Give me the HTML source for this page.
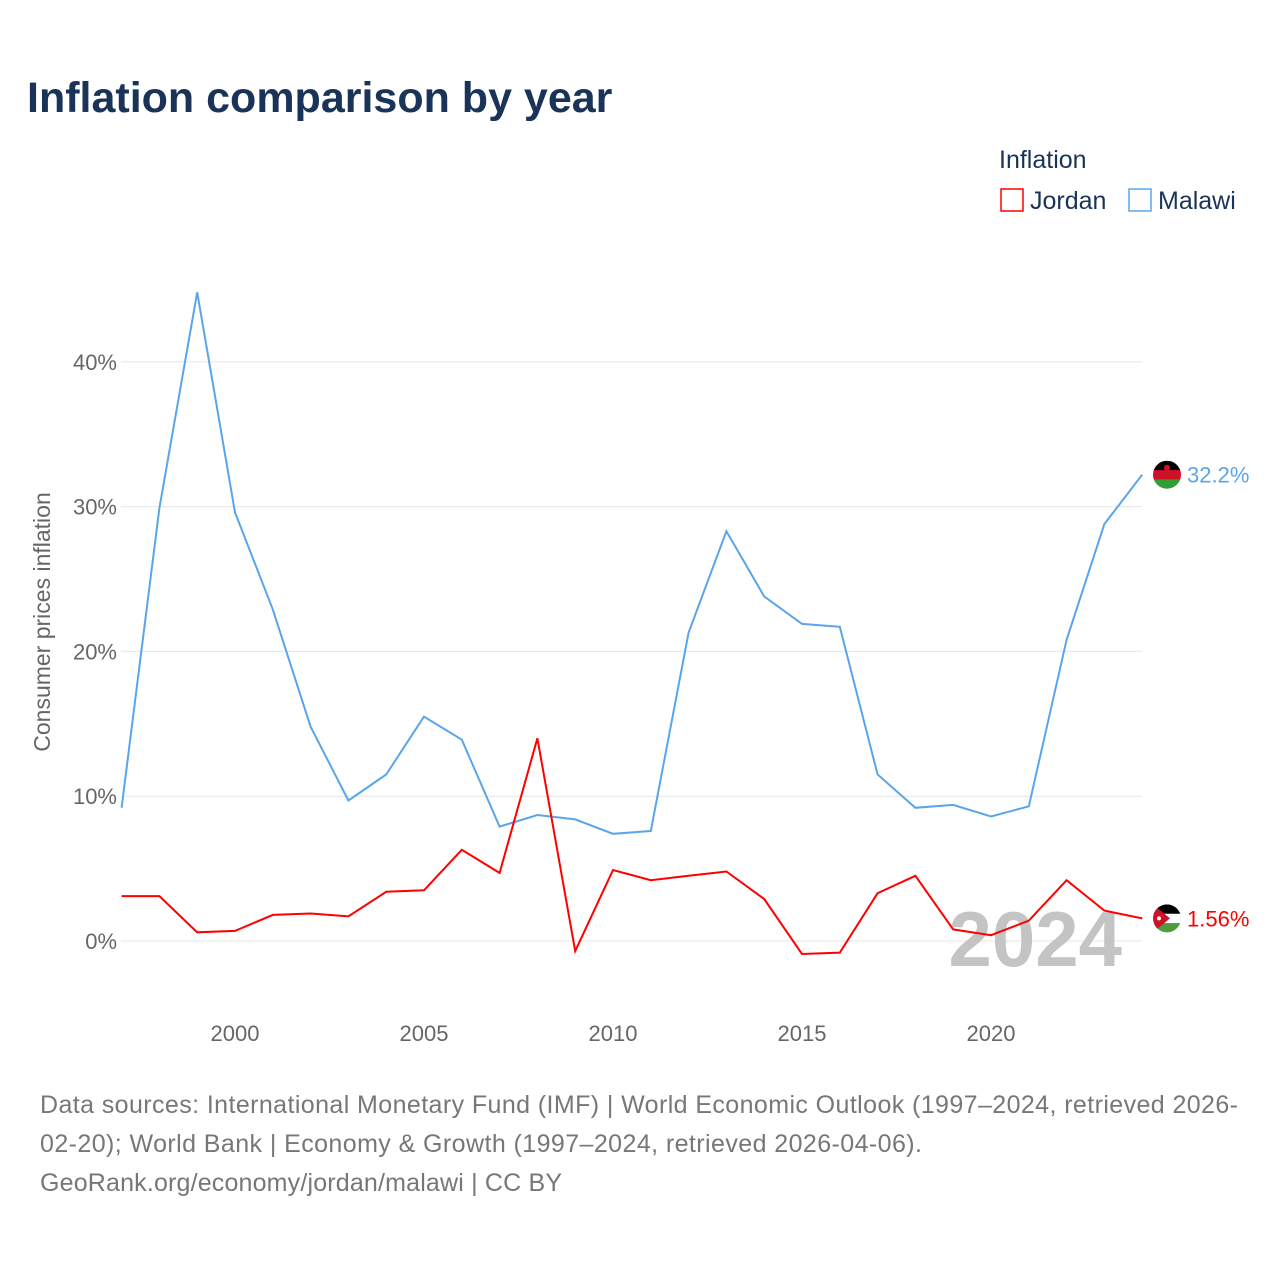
<!DOCTYPE html>
<html><head><meta charset="utf-8"><style>
body{margin:0;background:#fff;font-family:"Liberation Sans",sans-serif;}
#wrap{position:relative;width:1280px;height:1280px;overflow:hidden;}
</style></head><body>
<div id="wrap">
<svg id="chart" width="1280" height="1280">
<text x="27" y="112" font-size="43" font-weight="bold" fill="#1a3358">Inflation comparison by year</text>
<g>
<text x="999" y="168" font-size="25" fill="#1a3358">Inflation</text>
<rect x="1001" y="189" width="22" height="22" fill="none" stroke="#ff0000" stroke-width="1.5"/>
<text x="1030" y="209" font-size="25" fill="#1a3358">Jordan</text>
<rect x="1129" y="189" width="22" height="22" fill="none" stroke="#5aa5ea" stroke-width="1.5"/>
<text x="1158" y="209" font-size="25" fill="#1a3358">Malawi</text>
</g>
<g id="grid"></g><g id="axes"></g>
<text x="1122" y="966" text-anchor="end" font-size="78" font-weight="bold" fill="#c4c4c4">2024</text>
<g id="lines"></g>
<text transform="translate(50,622) rotate(-90)" text-anchor="middle" font-size="23" fill="#666">Consumer prices inflation</text>
<g font-size="25" fill="#777" textLength="1198">
<text x="40" y="1113" textLength="1198">Data sources: International Monetary Fund (IMF) | World Economic Outlook (1997–2024, retrieved 2026-</text>
<text x="40" y="1152" textLength="882">02-20); World Bank | Economy &amp; Growth (1997–2024, retrieved 2026-04-06).</text>
<text x="40" y="1191" textLength="522">GeoRank.org/economy/jordan/malawi | CC BY</text>
</g>
</svg></div>
<script>
const years=[1997,1998,1999,2000,2001,2002,2003,2004,2005,2006,2007,2008,2009,2010,2011,2012,2013,2014,2015,2016,2017,2018,2019,2020,2021,2022,2023,2024];
const malawi=[9.2,29.9,44.8,29.6,22.9,14.8,9.7,11.5,15.5,13.9,7.9,8.7,8.4,7.4,7.6,21.3,28.3,23.8,21.9,21.7,11.5,9.2,9.4,8.6,9.3,20.8,28.8,32.2];
const jordan=[3.1,3.1,0.6,0.7,1.8,1.9,1.7,3.4,3.5,6.3,4.7,14.0,-0.7,4.9,4.2,4.5,4.8,2.9,-0.9,-0.8,3.3,4.5,0.8,0.4,1.4,4.2,2.1,1.56];
const yTicks=[0,10,20,30,40];
const xTicks=[2000,2005,2010,2015,2020];
const NS='http://www.w3.org/2000/svg';
const x=v=>121.6+(v-1997)*37.8;
const y=v=>941-v*14.48;
function mk(t,a,p){const e=document.createElementNS(NS,t);for(const k in a)e.setAttribute(k,a[k]);p.appendChild(e);return e;}
const grid=document.getElementById('grid'),axes=document.getElementById('axes'),lines=document.getElementById('lines');
yTicks.forEach(t=>{
const l=mk('line',{x1:121,x2:1142,y1:y(t),y2:y(t),stroke:'#e6e6e6','stroke-width':1},grid);


const tx=mk('text',{x:117,y:y(t)+8,'text-anchor':'end','font-size':22,fill:'#666'},axes);
tx.textContent=t+'%';


});
xTicks.forEach(t=>{
const tx=mk('text',{x:x(t),y:1041,'text-anchor':'middle','font-size':22,fill:'#666'},axes);
tx.textContent=t;


});
function flag(name,cy,cols,tri){
const g=mk('g',{},lines);


const cp=mk('clipPath',{id:'clip-'+name},g);
mk('circle',{cx:1167,cy:cy,r:14},cp);
const inner=mk('g',{'clip-path':'url(#clip-'+name+')'},g);
cols.forEach((c,i)=>mk('rect',{x:1153,y:cy-14+i*28/3,width:28,height:28/3+0.5,fill:c},inner));
if(tri){mk('polygon',{points:(1153)+','+(cy-14)+' '+(1170)+','+cy+' '+(1153)+','+(cy+14),fill:'#ce1126'},inner);mk('circle',{cx:1159,cy:cy,r:2,fill:'#fff'},inner);}
else mk('circle',{cx:1167,cy:cy-7,r:3,fill:'#ce1126'},inner);
}
function series(vals,color,name,cols,tri){
const d=vals.map((v,i)=>(i?'L':'M')+x(years[i]).toFixed(1)+','+y(v).toFixed(1)).join(' ');
const p=mk('path',{d:d,fill:'none',stroke:color,'stroke-width':2},lines);


const last=vals[vals.length-1],ly=y(last);
flag(name,ly,cols,tri);
const t=mk('text',{x:1187,y:ly+8,'font-size':22,fill:color},lines);
t.textContent=(last%1===0?last.toFixed(1):String(last))+'%';


}
series(malawi,'#5aa5ea','malawi',['#000','#ce1126','#339e35'],false);
series(jordan,'#ff0000','jordan',['#000','#fff','#4f9a3a'],true);
</script>
</body></html>
